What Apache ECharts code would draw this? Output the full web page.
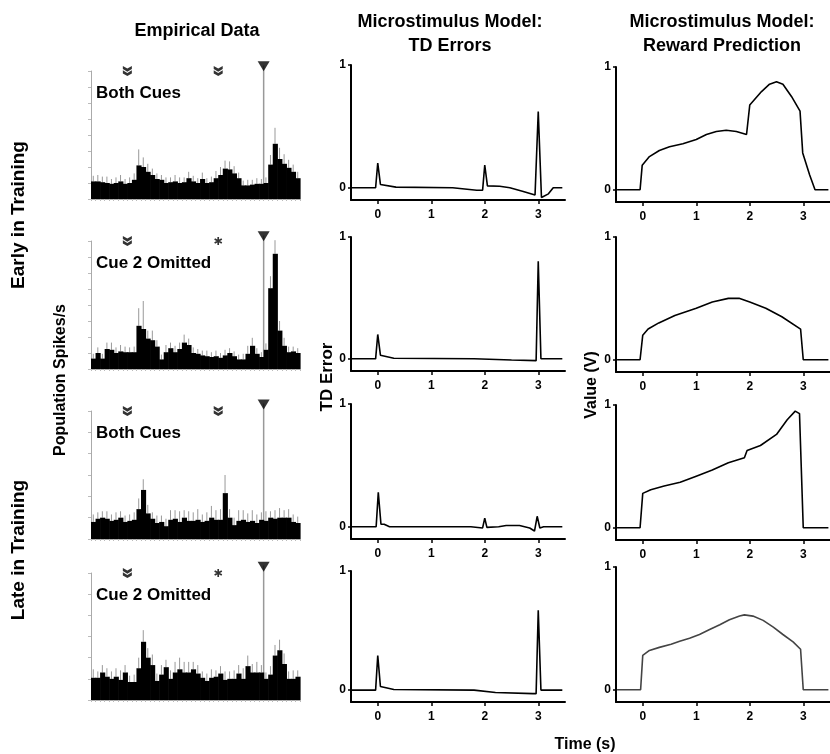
<!DOCTYPE html>
<html>
<head>
<meta charset="utf-8">
<title>Empirical data vs microstimulus model</title>
<script src="https://cdn.jsdelivr.net/npm/echarts@6/dist/echarts.min.js"></script>
<style>
  html, body { margin: 0; padding: 0; background: #fff; }
  #chart { width: 830px; height: 754px; }
</style>
</head>
<body>
<div id="chart"></div>
<script>
// ---- data ----
// histogram bins: 100 ms, starting 0.8 s before cue 1
var binStart = -0.8, binWidth = 0.1;

// population spikes/s (in axis tick units) and error bars
var histBoth1 = [1.1,1.1,1.05,1.0,0.95,1.0,1.1,0.95,1.0,1.2,2.1,2.0,1.7,1.5,1.25,1.2,1.0,1.05,1.1,1.0,1.05,1.3,1.1,1.0,1.25,1.0,1.05,1.3,1.5,1.9,1.85,1.6,1.3,0.85,0.85,0.9,0.95,0.95,1.0,2.15,3.45,2.5,2.2,1.95,1.7,1.3];
var errBoth1  = [0.35,0.4,0.35,0.4,0.3,0.35,0.4,0.3,0.35,0.4,1.0,0.6,0.5,0.4,0.35,0.3,0.35,0.3,0.4,0.35,0.3,0.4,0.35,0.3,0.4,0.3,0.35,0.45,0.5,0.5,0.5,0.45,0.35,0.3,0.35,0.3,0.35,0.3,0.35,0.6,1.0,0.7,0.6,0.5,0.45,0.4];
var histOmit1 = [0.65,1.0,0.65,1.25,1.2,1.0,1.1,1.05,1.05,1.05,2.7,2.5,1.9,1.8,1.4,0.6,1.05,1.3,1.05,1.25,1.65,1.5,1.0,0.95,0.85,0.8,0.75,0.8,0.7,0.85,1.0,0.8,0.6,0.6,0.95,1.45,0.95,0.75,1.2,5.05,7.2,2.4,1.45,1.05,1.1,1.0];
var errOmit1  = [0.3,0.35,0.3,0.4,0.45,0.35,0.4,0.35,0.3,0.35,1.1,1.75,0.5,0.6,0.4,0.3,0.45,0.35,0.4,0.4,0.5,0.4,0.35,0.3,0.3,0.35,0.3,0.35,0.3,0.35,0.3,0.3,0.3,0.35,0.5,0.5,0.35,0.3,0.4,0.75,0.85,0.6,0.5,0.35,0.3,0.3];
var histBoth2 = [0.8,0.95,1.0,0.95,0.85,0.9,1.0,0.8,0.85,0.9,1.4,2.3,1.2,0.95,0.75,0.8,0.6,0.9,0.95,0.8,1.0,0.85,0.85,0.9,0.8,0.85,1.0,0.9,0.9,2.15,1.0,0.65,0.85,0.9,0.8,0.85,0.75,0.9,0.85,1.0,0.95,1.0,1.0,1.0,0.8,0.75];
var errBoth2  = [0.35,0.3,0.3,0.35,0.3,0.35,0.3,0.3,0.3,0.35,0.5,0.5,0.4,0.3,0.35,0.3,0.35,0.45,0.4,0.5,0.35,0.45,0.4,0.5,0.35,0.4,0.55,0.45,0.5,0.85,0.4,0.35,0.5,0.45,0.4,0.5,0.4,0.35,0.45,0.3,0.4,0.45,0.35,0.4,0.35,0.3];
var histOmit2 = [1.05,1.05,1.3,1.1,1.0,1.1,0.95,1.3,0.85,0.85,1.5,2.75,2.0,1.65,0.9,1.2,1.55,1.0,1.3,1.45,1.3,1.3,1.45,1.25,1.05,0.9,1.05,1.1,1.25,0.95,1.0,1.0,1.25,1.0,1.6,1.3,1.3,1.3,1.0,1.2,2.1,2.35,1.7,1.0,1.0,1.1];
var errOmit2  = [0.4,0.3,0.35,0.4,0.35,0.4,0.45,0.35,0.3,0.35,0.5,0.55,0.45,0.5,0.35,0.45,0.35,0.4,0.5,0.55,0.5,0.5,0.35,0.4,0.3,0.35,0.4,0.3,0.35,0.4,0.35,0.4,0.4,0.5,0.5,0.4,0.5,0.35,0.3,0.4,0.5,0.5,0.5,0.35,0.4,0.3];

// event times (s)
var cueTimes = [0, 2];
var rewardTime = 3;

// model TD errors [time, error]
var tdEarlyBoth = [[-0.5,0],[-0.04,0],[0,0.2],[0.05,0.027],[0.34,0.005],[1.4,0],[1.85,-0.02],[1.96,-0.02],[2.0,0.185],[2.05,0.015],[2.28,0.012],[2.47,0],[2.72,-0.03],[2.94,-0.06],[2.97,-0.06],[3.0,0.62],[3.06,-0.08],[3.19,-0.05],[3.28,0],[3.45,0]];
var tdEarlyOmit = [[-0.5,0],[-0.04,0],[0,0.2],[0.05,0.03],[0.3,0.005],[1.8,0],[2.5,-0.01],[2.96,-0.015],[3.0,0.8],[3.05,0],[3.45,0]];
var tdLateBoth  = [[-0.5,0],[-0.03,0],[0.01,0.28],[0.06,0.02],[0.12,0.02],[0.22,0],[1.74,0],[1.96,-0.01],[2.0,0.07],[2.04,-0.005],[2.26,0],[2.4,0.01],[2.65,0.01],[2.84,-0.01],[2.93,-0.035],[2.98,0.085],[3.03,-0.01],[3.1,0],[3.45,0]];
var tdLateOmit  = [[-0.5,0],[-0.04,0],[0,0.29],[0.05,0.03],[0.3,0.005],[1.8,0],[2.2,-0.02],[2.9,-0.03],[2.96,-0.03],[3.0,0.67],[3.05,0],[3.45,0]];

// model reward prediction [time, value]
var rpEarlyBoth = [[-0.48,0],[-0.05,0],[-0.01,0.2],[0.125,0.27],[0.31,0.32],[0.5,0.35],[0.75,0.375],[1.0,0.41],[1.19,0.45],[1.375,0.475],[1.56,0.485],[1.75,0.475],[1.94,0.45],[2.0,0.69],[2.22,0.8],[2.37,0.86],[2.5,0.88],[2.62,0.86],[2.78,0.76],[2.94,0.64],[2.99,0.3],[3.12,0.12],[3.22,0],[3.47,0]];
var rpEarlyOmit = [[-0.48,0],[-0.05,0],[0,0.2],[0.1,0.25],[0.3,0.3],[0.6,0.36],[1.0,0.42],[1.3,0.47],[1.6,0.5],[1.8,0.5],[2.0,0.47],[2.3,0.42],[2.6,0.35],[2.95,0.25],[3.0,0],[3.47,0]];
var rpLateBoth  = [[-0.48,0],[-0.05,0],[0,0.28],[0.15,0.31],[0.4,0.34],[0.7,0.37],[1.0,0.42],[1.3,0.47],[1.6,0.53],[1.9,0.57],[1.95,0.63],[2.2,0.67],[2.5,0.76],[2.7,0.88],[2.85,0.95],[2.93,0.93],[3.0,0],[3.47,0]];
var rpLateOmit  = [[-0.48,0],[-0.04,0],[0,0.28],[0.125,0.32],[0.31,0.345],[0.53,0.37],[0.69,0.395],[0.875,0.42],[1.06,0.45],[1.25,0.49],[1.44,0.53],[1.62,0.57],[1.81,0.6],[1.9,0.61],[2.06,0.6],[2.25,0.565],[2.44,0.51],[2.62,0.45],[2.81,0.39],[2.95,0.33],[3.0,0],[3.47,0]];

var modelTicks = [0, 1, 2, 3];
var valueTicks = [0, 1];

// ---- chart ----
var FONT = '"Liberation Sans", Arial, sans-serif';
var chevron = 'path://M0,0 L5,3 L10,0 L10,3.5 L5,6.5 L0,3.5 Z M0,5 L5,8 L10,5 L10,8.5 L5,11.5 L0,8.5 Z';
var star = 'path://M4,0L6,0L6,10L4,10Z M0.17,3.37L1.17,1.63L9.83,6.63L8.83,8.37Z M8.83,1.63L9.83,3.37L1.17,8.37L0.17,6.63Z';

var histPanels = [
    {vals: histBoth1, errs: errBoth1, omit: false, max: 8, top: 71,  height: 128, label: 'Both Cues'},
    {vals: histOmit1, errs: errOmit1, omit: true,  max: 8, top: 241, height: 128, label: 'Cue 2 Omitted'},
    {vals: histBoth2, errs: errBoth2, omit: false, max: 6, top: 411, height: 128, label: 'Both Cues'},
    {vals: histOmit2, errs: errOmit2, omit: true,  max: 6, top: 573, height: 127, label: 'Cue 2 Omitted'}
];
var tdPanels = [
    {data: tdEarlyBoth, top: 65,  height: 135},
    {data: tdEarlyOmit, top: 237, height: 134},
    {data: tdLateBoth,  top: 404, height: 135},
    {data: tdLateOmit,  top: 571, height: 131}
];
var rpPanels = [
    {data: rpEarlyBoth, top: 67,  height: 135, color: '#000'},
    {data: rpEarlyOmit, top: 237, height: 135, color: '#000'},
    {data: rpLateBoth,  top: 405, height: 135, color: '#000'},
    {data: rpLateOmit,  top: 567, height: 135, color: '#444'}
];

var grid = [], xAxis = [], yAxis = [], series = [], graphic = [];

histPanels.forEach(function (p, i) {
    grid.push({left: 91, width: 209, top: p.top, height: p.height});
    xAxis.push({
        type: 'value', gridIndex: i, min: binStart, max: binStart + binWidth * p.vals.length,
        interval: 0.1, axisLine: {onZero: false, lineStyle: {color: '#aaa', width: 1}},
        axisTick: {length: 2, lineStyle: {color: '#bbb'}}, axisLabel: {show: false}, splitLine: {show: false}
    });
    yAxis.push({
        type: 'value', gridIndex: i, min: 0, max: p.max, interval: 1,
        axisLine: {show: true, onZero: false, lineStyle: {color: '#aaa', width: 1}},
        axisTick: {show: true, length: 3, lineStyle: {color: '#bbb'}}, axisLabel: {show: false}, splitLine: {show: false}
    });
    var bars = p.vals.map(function (v, k) { return [binStart + binWidth * k, v, p.errs[k]]; });
    // reward marker line
    series.push({
        type: 'line', xAxisIndex: i, yAxisIndex: i, clip: false, symbol: 'none', z: 1,
        data: [[rewardTime, 0], [rewardTime, p.max + 0.35]],
        lineStyle: {color: '#999', width: 1.5}, silent: true
    });
    series.push({
        type: 'custom', xAxisIndex: i, yAxisIndex: i, z: 2, data: bars,
        renderItem: function (params, api) {
            var x = api.value(0) + binWidth / 2, h = api.value(1), e = api.value(2);
            var a = api.coord([x, h]), b = api.coord([x, h + e]);
            return {type: 'line', shape: {x1: a[0], y1: a[1], x2: b[0], y2: b[1]}, style: {stroke: '#999', lineWidth: 1}};
        }
    });
    series.push({
        type: 'custom', xAxisIndex: i, yAxisIndex: i, z: 3, data: bars,
        renderItem: function (params, api) {
            var a = api.coord([api.value(0), api.value(1)]);
            var b = api.coord([api.value(0) + binWidth, 0]);
            return {type: 'rect', shape: {x: a[0], y: a[1], width: b[0] - a[0] + 0.6, height: b[1] - a[1]}, style: {fill: '#000'}};
        }
    });
    var cues = p.omit ? [[cueTimes[0], p.max]] : cueTimes.map(function (t) { return [t, p.max]; });
    series.push({
        type: 'scatter', xAxisIndex: i, yAxisIndex: i, clip: false, z: 4, symbol: chevron,
        symbolSize: [9, 10], itemStyle: {color: '#000'}, data: cues
    });
    if (p.omit) {
        series.push({
            type: 'scatter', xAxisIndex: i, yAxisIndex: i, clip: false, z: 4, symbol: star,
            symbolSize: [8, 8], itemStyle: {color: '#000'}, data: [[cueTimes[1], p.max]]
        });
    }
    series.push({
        type: 'scatter', xAxisIndex: i, yAxisIndex: i, clip: false, z: 4, symbol: 'triangle',
        symbolRotate: 180, symbolSize: [12, 10], itemStyle: {color: '#000'},
        data: [[rewardTime, p.max + 0.3]]
    });
    graphic.push({
        type: 'text', x: 96, y: p.top + 22,
        style: {text: p.label, font: 'bold 17px ' + FONT, fill: '#000', verticalAlign: 'middle'}
    });
});

function modelAxes(panels, left, offset) {
    panels.forEach(function (p, j) {
        var i = offset + j;
        grid.push({left: left, width: 214, top: p.top, height: p.height});
        xAxis.push({
            type: 'value', gridIndex: i, min: -0.5, max: 3.5,
            axisLine: {onZero: false, lineStyle: {color: '#000', width: 2}},
            axisTick: {customValues: modelTicks, length: 4, lineStyle: {color: '#000', width: 1.5}},
            axisLabel: {customValues: modelTicks, margin: 9, color: '#000', fontWeight: 'bold', fontSize: 12, fontFamily: FONT},
            splitLine: {show: false}
        });
        yAxis.push({
            type: 'value', gridIndex: i, min: -0.1, max: 1,
            axisLine: {show: true, onZero: false, lineStyle: {color: '#000', width: 2}},
            axisTick: {show: true, customValues: valueTicks, length: 3, lineStyle: {color: '#000', width: 1.5}},
            axisLabel: {customValues: valueTicks, margin: 5, color: '#000', fontWeight: 'bold', fontSize: 12, fontFamily: FONT},
            splitLine: {show: false}
        });
        series.push({
            type: 'line', xAxisIndex: i, yAxisIndex: i, data: p.data, symbol: 'none',
            lineStyle: {color: p.color || '#000', width: 1.6}
        });
    });
}
modelAxes(tdPanels, 351, 4);
modelAxes(rpPanels, 616, 8);

function txt(s, x, y, size, rot) {
    graphic.push({
        type: 'text', x: x, y: y, rotation: rot ? Math.PI / 2 : 0,
        style: {text: s, font: 'bold ' + size + 'px ' + FONT, fill: '#000', align: 'center', verticalAlign: 'middle', lineHeight: 24}
    });
}
txt('Empirical Data', 197, 31, 18);
txt('Microstimulus Model:\nTD Errors', 450, 34, 18);
txt('Microstimulus Model:\nReward Prediction', 722, 34, 18);
txt('Early in Training', 19, 215, 19, true);
txt('Late in Training', 19, 550, 19, true);
txt('Population Spikes/s', 61, 380, 16, true);
txt('TD Error', 327, 377, 17, true);
txt('Value (V)', 592, 385, 16, true);
txt('Time (s)', 585, 745, 16);

var chart = echarts.init(document.getElementById('chart'));
chart.setOption({
    animation: false,
    backgroundColor: '#fff',
    grid: grid, xAxis: xAxis, yAxis: yAxis, series: series, graphic: graphic
});
</script>
</body>
</html>
